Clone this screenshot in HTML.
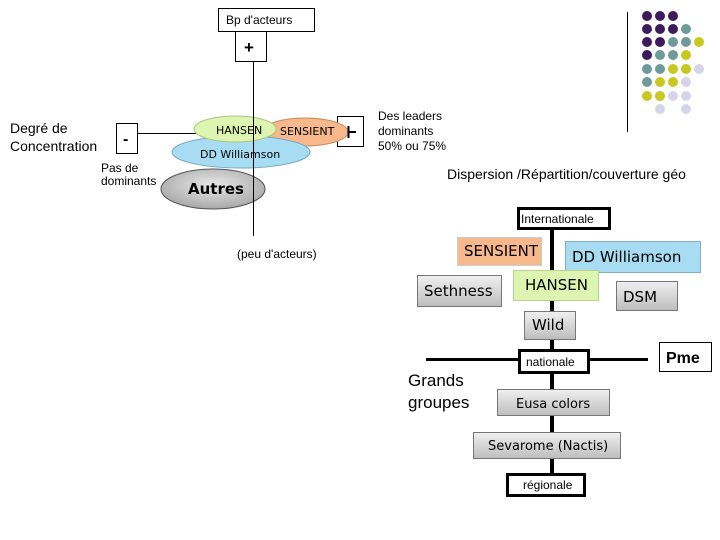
<!DOCTYPE html>
<html><head><meta charset="utf-8"><style>
html,body{margin:0;padding:0;background:#fff;width:720px;height:540px;overflow:hidden}
svg{display:block}
text{font-family:"Liberation Sans",sans-serif;fill:#000}
.d{font-family:"DejaVu Sans","Liberation Sans",sans-serif}
</style></head><body>
<svg width="720" height="540" viewBox="0 0 720 540" xmlns="http://www.w3.org/2000/svg">
<defs>
<linearGradient id="gg" x1="0" y1="0" x2="0" y2="1"><stop offset="0" stop-color="#f0f0f0"/><stop offset="1" stop-color="#bdbdbd"/></linearGradient>
<radialGradient id="eg" cx="0.5" cy="0.4" r="0.6"><stop offset="0" stop-color="#e8e8e8"/><stop offset="1" stop-color="#a8a8a8"/></radialGradient>
</defs>
<rect x="218.5" y="8.5" width="96" height="23" fill="#fff" stroke="#000"/>
<text x="226" y="24" font-size="12">Bp d'acteurs</text>
<rect x="235.5" y="31.5" width="31" height="30" fill="#fff" stroke="#000"/>
<text x="244" y="53" font-size="17" font-weight="bold">+</text>
<rect x="116.5" y="123.5" width="21" height="30" fill="#fff" stroke="#000"/>
<text x="123" y="144" font-size="16" font-weight="bold">-</text>
<line x1="137" y1="133.5" x2="200" y2="133.5" stroke="#000"/>
<rect x="337.5" y="116.5" width="26" height="30" fill="#fff" stroke="#000"/>
<ellipse cx="305" cy="132" rx="43" ry="14" fill="#f7b98c" stroke="#c98a5a"/>
<ellipse cx="241" cy="152" rx="69" ry="16" fill="#a7dcf2" stroke="#6fa9c4"/>
<ellipse cx="235" cy="129" rx="41" ry="13" fill="#def5b2" stroke="#a9c47a"/>
<ellipse cx="213" cy="189" rx="52" ry="20" fill="url(#eg)" stroke="#555"/>
<line x1="253.5" y1="61" x2="253.5" y2="236" stroke="#000"/>
<line x1="348" y1="132" x2="356" y2="132" stroke="#000" stroke-width="2"/>
<line x1="348.5" y1="126" x2="348.5" y2="138" stroke="#000" stroke-width="2"/>
<text x="216" y="134" font-size="11" class="d">HANSEN</text>
<text x="280" y="135" font-size="11" class="d">SENSIENT</text>
<text x="200" y="158" font-size="11" class="d">DD Williamson</text>
<text x="188" y="194" font-size="15" font-weight="600" class="d">Autres</text>
<text x="10" y="133" font-size="14">Degré de</text>
<text x="10" y="151" font-size="14">Concentration</text>
<text x="101" y="172" font-size="12">Pas de</text>
<text x="101" y="185" font-size="12">dominants</text>
<text x="378" y="120" font-size="12">Des leaders</text>
<text x="378" y="135" font-size="12">dominants</text>
<text x="378" y="150" font-size="12">50% ou 75%</text>
<text x="447" y="179" font-size="14">Dispersion /Répartition/couverture géo</text>
<text x="237" y="258" font-size="12">(peu d'acteurs)</text>
<line x1="627.5" y1="12" x2="627.5" y2="132" stroke="#000"/>
<g>
<circle cx="647" cy="16" r="5" fill="#3d1a5c"/><circle cx="660" cy="16" r="5" fill="#3d1a5c"/><circle cx="673" cy="16" r="5" fill="#3d1a5c"/>
<circle cx="647" cy="29" r="5" fill="#3d1a5c"/><circle cx="660" cy="29" r="5" fill="#3d1a5c"/><circle cx="673" cy="29" r="5" fill="#3d1a5c"/><circle cx="686" cy="29" r="5" fill="#6f9a9a"/>
<circle cx="647" cy="42" r="5" fill="#3d1a5c"/><circle cx="660" cy="42" r="5" fill="#3d1a5c"/><circle cx="673" cy="42" r="5" fill="#6f9a9a"/><circle cx="686" cy="42" r="5" fill="#6f9a9a"/><circle cx="699" cy="42" r="5" fill="#c8c820"/>
<circle cx="647" cy="55" r="5" fill="#3d1a5c"/><circle cx="660" cy="55" r="5" fill="#6f9a9a"/><circle cx="673" cy="55" r="5" fill="#6f9a9a"/><circle cx="686" cy="55" r="5" fill="#c8c820"/>
<circle cx="647" cy="69" r="5" fill="#6f9a9a"/><circle cx="660" cy="69" r="5" fill="#6f9a9a"/><circle cx="673" cy="69" r="5" fill="#c8c820"/><circle cx="686" cy="69" r="5" fill="#c8c820"/><circle cx="699" cy="69" r="5" fill="#d5d5e8"/>
<circle cx="647" cy="82" r="5" fill="#6f9a9a"/><circle cx="660" cy="82" r="5" fill="#c8c820"/><circle cx="673" cy="82" r="5" fill="#c8c820"/><circle cx="686" cy="82" r="5" fill="#d5d5e8"/>
<circle cx="647" cy="96" r="5" fill="#c8c820"/><circle cx="660" cy="96" r="5" fill="#c8c820"/><circle cx="673" cy="96" r="5" fill="#d5d5e8"/><circle cx="686" cy="96" r="5" fill="#d5d5e8"/>
<circle cx="660" cy="109" r="5" fill="#d5d5e8"/><circle cx="686" cy="109" r="5" fill="#d5d5e8"/>
</g>
<line x1="552" y1="229" x2="552" y2="475" stroke="#000" stroke-width="4"/>
<line x1="426" y1="359.5" x2="648" y2="359.5" stroke="#000" stroke-width="3"/>
<rect x="518.5" y="208.5" width="91" height="20" fill="#fff" stroke="#000" stroke-width="3"/>
<text x="521" y="223" font-size="12">Internationale</text>
<rect x="457.5" y="237.5" width="84" height="28" fill="#f7b98c" stroke="#ccc"/>
<text x="464" y="256" font-size="15" class="d">SENSIENT</text>
<rect x="565.5" y="241.5" width="135" height="31" fill="#a7dcf2" stroke="#7fb0c8"/>
<text x="572" y="262" font-size="15" class="d">DD Williamson</text>
<rect x="417.5" y="275.5" width="84" height="31" fill="url(#gg)" stroke="#777"/>
<text x="424" y="296" font-size="15" class="d">Sethness</text>
<rect x="513.5" y="270.5" width="85" height="30" fill="#def5b2" stroke="#b8d090"/>
<text x="525" y="290" font-size="15" class="d">HANSEN</text>
<rect x="616.5" y="281.5" width="61" height="29" fill="url(#gg)" stroke="#777"/>
<text x="623" y="302" font-size="15" class="d">DSM</text>
<rect x="524.5" y="311.5" width="51" height="28" fill="url(#gg)" stroke="#777"/>
<text x="532" y="330" font-size="15" class="d">Wild</text>
<rect x="519.5" y="350.5" width="69" height="22" fill="#fff" stroke="#000" stroke-width="3"/>
<text x="526" y="366" font-size="12">nationale</text>
<rect x="659.5" y="342.5" width="52" height="29" fill="#fff" stroke="#000"/>
<text x="666" y="363" font-size="16" font-weight="bold">Pme</text>
<text x="408" y="386" font-size="17">Grands</text>
<text x="408" y="408" font-size="17">groupes</text>
<rect x="497.5" y="389.5" width="112" height="26" fill="url(#gg)" stroke="#777"/>
<text x="516" y="408" font-size="13" class="d">Eusa colors</text>
<rect x="473.5" y="432.5" width="147" height="26" fill="url(#gg)" stroke="#777"/>
<text x="488" y="450" font-size="13" class="d">Sevarome (Nactis)</text>
<rect x="507.5" y="474.5" width="77" height="21" fill="#fff" stroke="#000" stroke-width="3"/>
<text x="523" y="489" font-size="12">régionale</text>
</svg>
</body></html>
